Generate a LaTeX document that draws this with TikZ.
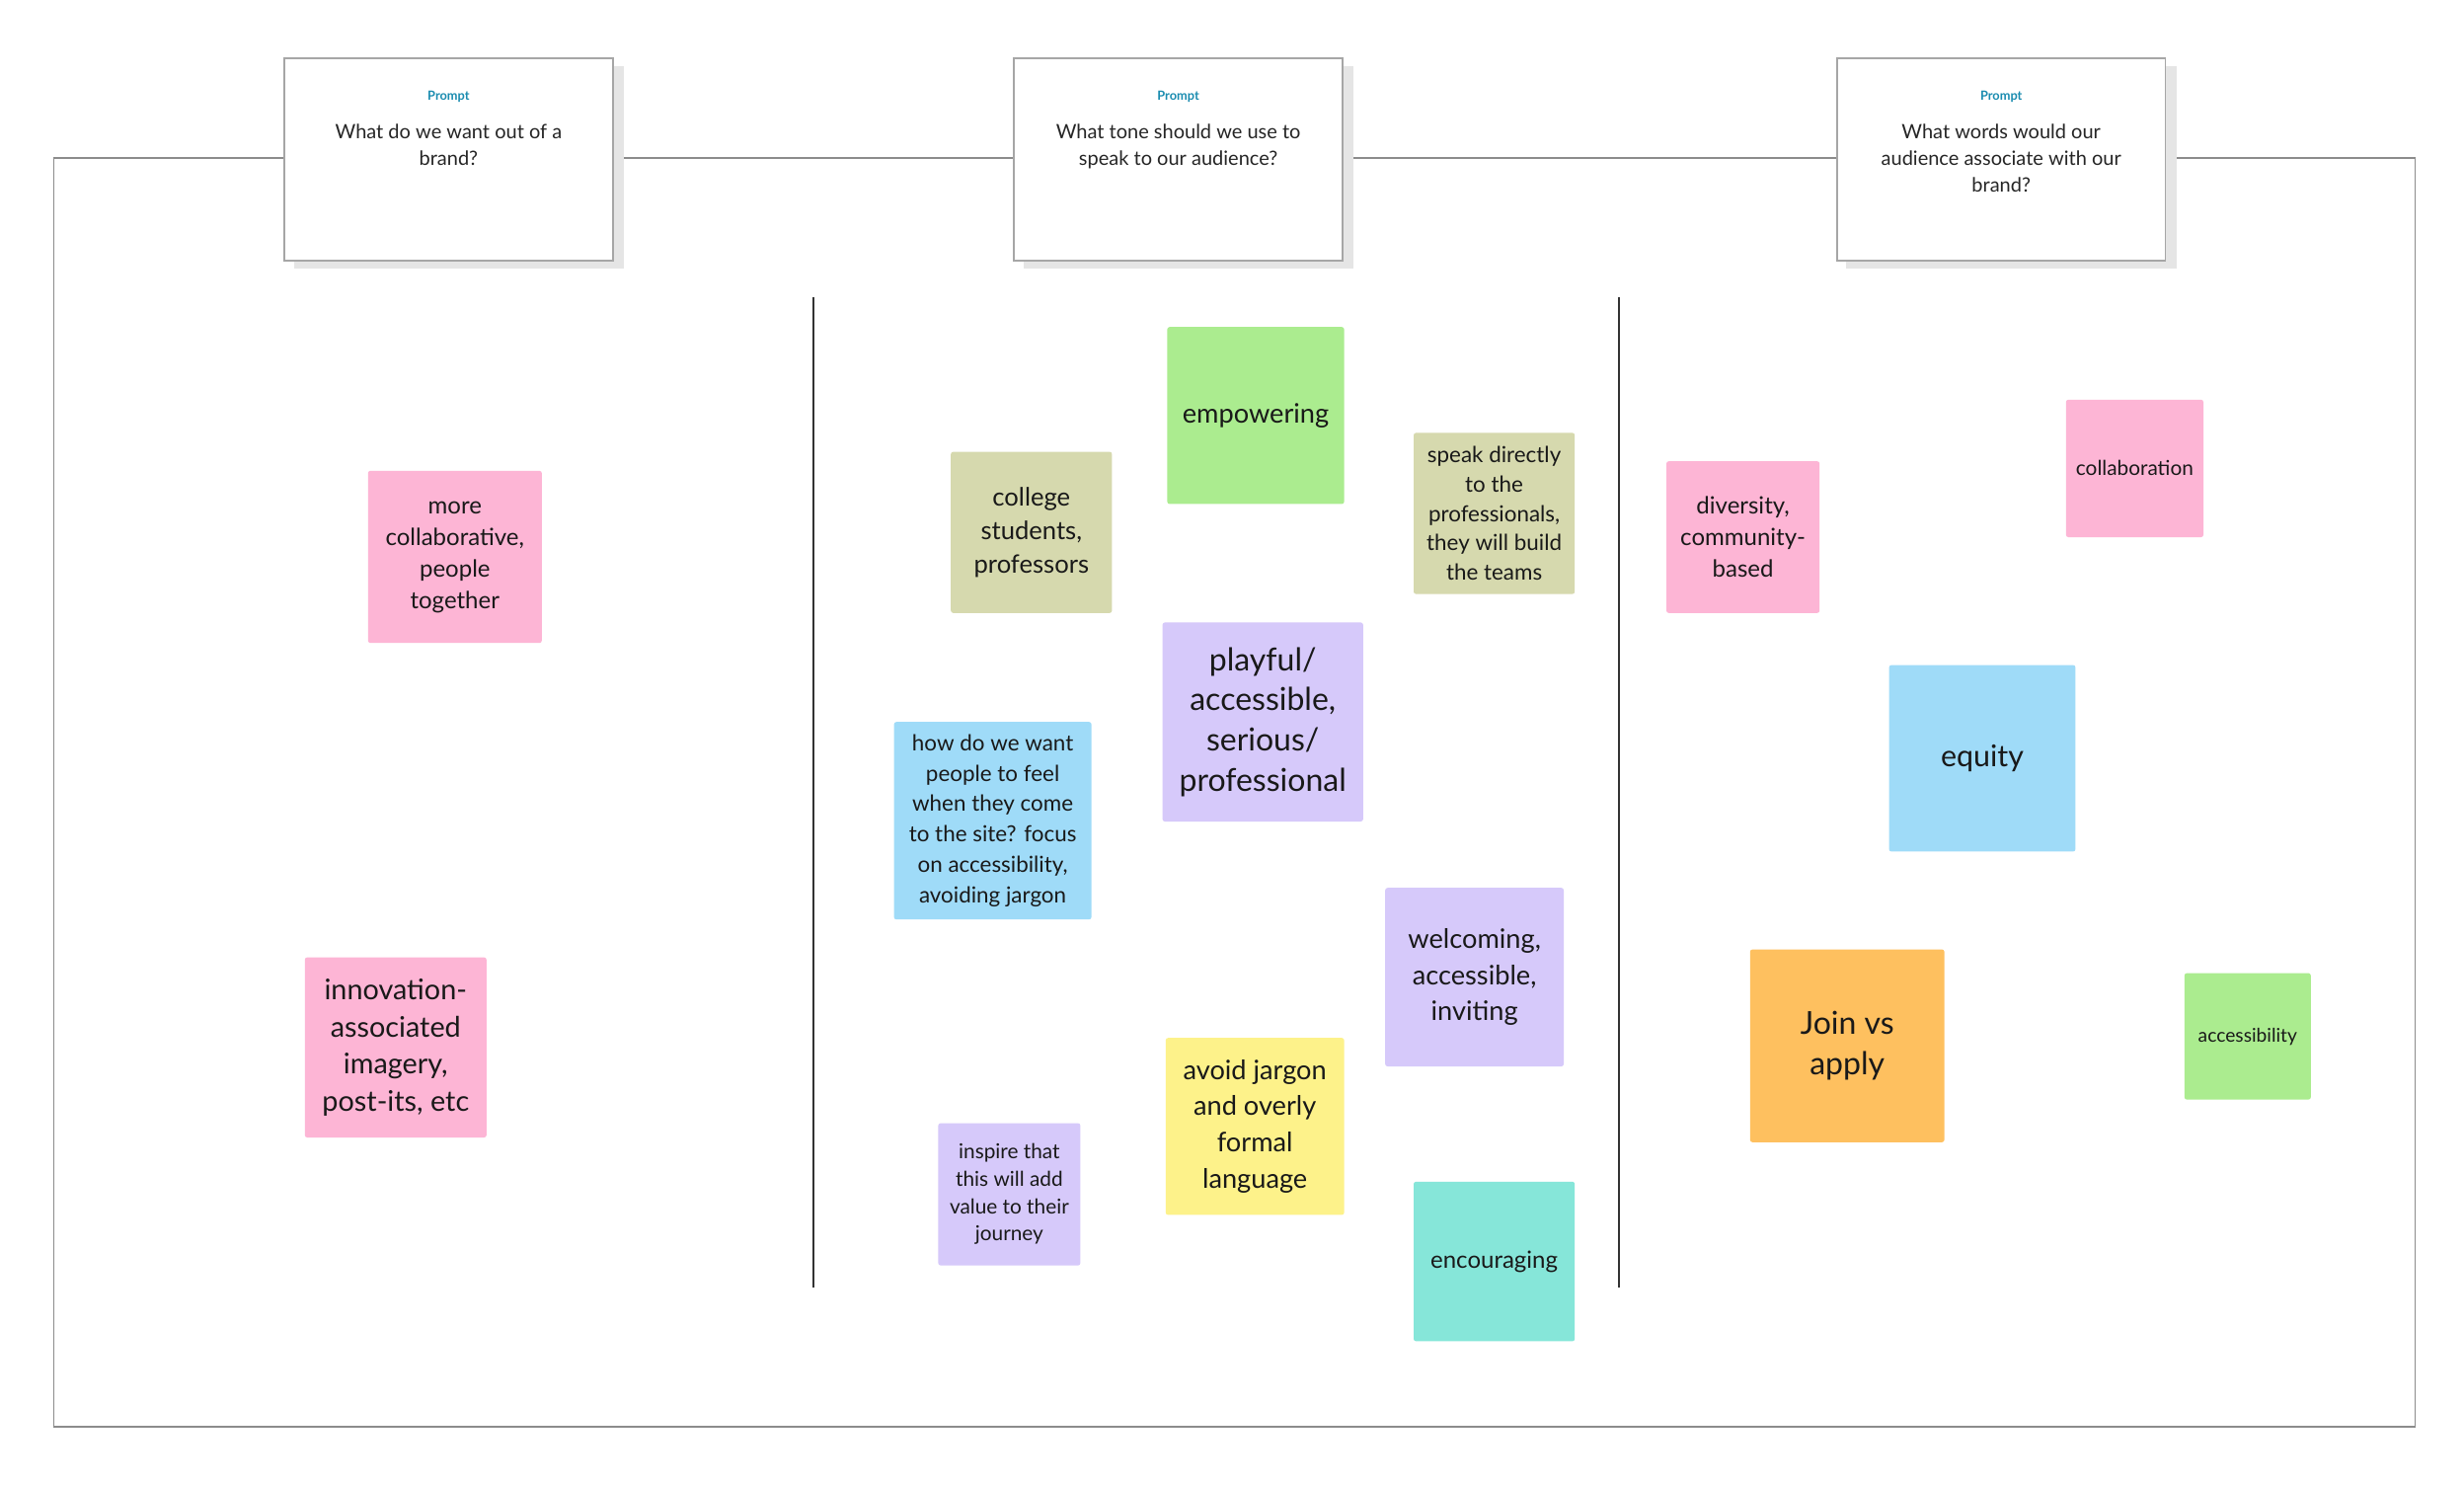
\documentclass[tikz,border=0pt]{standalone}
\usepackage{fontspec}
\setmainfont{Lato}
\definecolor{spink}{HTML}{FDB5D5}
\definecolor{solive}{HTML}{D6D9AE}
\definecolor{sgreen}{HTML}{ABEC8F}
\definecolor{spurple}{HTML}{D6C9FA}
\definecolor{sblue}{HTML}{9FDBF8}
\definecolor{syellow}{HTML}{FDF28A}
\definecolor{steal}{HTML}{86E6D9}
\definecolor{sorange}{HTML}{FEC05F}
\definecolor{ptitle}{HTML}{1A8CB0}
\newcommand\stk[9]{\fill[#6,rounded corners=1.5pt] (#2,#3) rectangle (#4,#5);
  \node[sticky,font=\fontsize{#7}{#8}\selectfont] (#1) at ({(#2+#4)/2},{(#3+#5)/2}) {#9};}
\begin{document}
\begin{tikzpicture}[x=1pt,y=-1pt,
  sticky/.style={draw=none,align=center,inner sep=0pt,text=black!90},
  card/.style={draw=black!35,fill=white,line width=1pt},
  shadow/.style={fill=black!10,draw=none}]
\useasboundingbox (0,0) rectangle (1560,940);
\fill[white] (0,0) rectangle (1560,940);
\draw[black!45,line width=1pt] (34,100) rectangle (1529,903);
\draw[black!80,line width=1.2pt] (515,188) coordinate (l1a) -- (515,815) coordinate (l1b);
\draw[black!80,line width=1.2pt] (1025,188) coordinate (l2a) -- (1025,815) coordinate (l2b);
\foreach \x/\n/\t in {180/p1/{What do we want out of a\\brand?},642/p2/{What tone should we use to\\speak to our audience?},1163/p3/{What words would our\\audience associate with our\\brand?}}{
  \fill[shadow] (\x+6,42) rectangle (\x+215,170);
  \draw[card] (\x,37) rectangle (\x+208,165);
  \node[text=ptitle,font=\fontsize{8}{9}\selectfont\bfseries] (\n t) at (\x+104,61) {Prompt};
  \node[anchor=north,align=center,font=\fontsize{12.5}{17}\selectfont,text=black!85] (\n) at (\x+104,75) {\t};
}
\stk{a}{233}{298}{343}{407}{spink}{15}{20}{more\\collaborative,\\people\\together}
\stk{b}{193}{606}{308}{720}{spink}{18}{23.5}{innovation-\\associated\\imagery,\\post-its, etc}
\stk{c}{602}{286}{704}{388}{solive}{16}{21}{college\\students,\\professors}
\stk{d}{739}{207}{851}{319}{sgreen}{17}{21}{empowering}
\stk{e}{895}{274}{997}{376}{solive}{14}{18.5}{speak directly\\to the\\professionals,\\they will build\\the teams}
\stk{f}{736}{394}{863}{520}{spurple}{20}{25.5}{playful/\\accessible,\\serious/\\professional}
\stk{g}{566}{457}{691}{582}{sblue}{14}{19.3}{how do we want\\people to feel\\when they come\\to the site? focus\\on accessibility,\\avoiding jargon}
\stk{h}{877}{562}{990}{675}{spurple}{17}{23}{welcoming,\\accessible,\\inviting}
\stk{i}{738}{657}{851}{769}{syellow}{17}{23}{avoid jargon\\and overly\\formal\\language}
\stk{j}{594}{711}{684}{801}{spurple}{13}{17.3}{inspire that\\this will add\\value to their\\journey}
\stk{k}{895}{748}{997}{849}{steal}{15}{20}{encouraging}
\stk{m}{1055}{292}{1152}{388}{spink}{15}{20}{diversity,\\community-\\based}
\stk{n}{1308}{253}{1395}{340}{spink}{13}{17}{collaboration}
\stk{o}{1196}{421}{1314}{539}{sblue}{19}{24}{equity}
\stk{p}{1108}{601}{1231}{723}{sorange}{20}{26}{Join vs\\apply}
\stk{q}{1383}{616}{1463}{696}{sgreen}{12}{15}{accessibility}
\end{tikzpicture}
\end{document}
